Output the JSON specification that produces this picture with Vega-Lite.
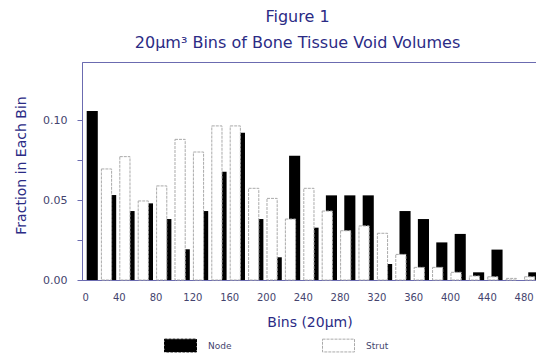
{
  "$schema": "https://vega.github.io/schema/vega-lite/v6.json",
  "autosize": "none",
  "width": 455,
  "height": 218,
  "padding": {"left": 82, "top": 62, "right": 0, "bottom": 74},
  "background": "white",
  "title": {
    "text": ["Figure 1", "20µm³ Bins of Bone Tissue Void Volumes"],
    "font": "DejaVu Sans",
    "fontSize": 16,
    "fontWeight": "normal",
    "color": "#2b2b85",
    "lineHeight": 26,
    "anchor": "middle",
    "dx": -12,
    "offset": 11
  },
  "data": {
    "values": [
      {"bin": 0, "end": 20, "series": "Node", "value": 0.1056},
      {"bin": 20, "end": 40, "series": "Node", "value": 0.0531},
      {"bin": 40, "end": 60, "series": "Node", "value": 0.0431},
      {"bin": 60, "end": 80, "series": "Node", "value": 0.0479},
      {"bin": 80, "end": 100, "series": "Node", "value": 0.0381},
      {"bin": 100, "end": 120, "series": "Node", "value": 0.0192},
      {"bin": 120, "end": 140, "series": "Node", "value": 0.0431},
      {"bin": 140, "end": 160, "series": "Node", "value": 0.0677},
      {"bin": 160, "end": 180, "series": "Node", "value": 0.092},
      {"bin": 180, "end": 200, "series": "Node", "value": 0.0381},
      {"bin": 200, "end": 220, "series": "Node", "value": 0.0142},
      {"bin": 220, "end": 240, "series": "Node", "value": 0.0777},
      {"bin": 240, "end": 260, "series": "Node", "value": 0.0327},
      {"bin": 260, "end": 280, "series": "Node", "value": 0.0529},
      {"bin": 280, "end": 300, "series": "Node", "value": 0.0529},
      {"bin": 300, "end": 320, "series": "Node", "value": 0.0529},
      {"bin": 320, "end": 340, "series": "Node", "value": 0.01},
      {"bin": 340, "end": 360, "series": "Node", "value": 0.0431},
      {"bin": 360, "end": 380, "series": "Node", "value": 0.0381},
      {"bin": 380, "end": 400, "series": "Node", "value": 0.0235},
      {"bin": 400, "end": 420, "series": "Node", "value": 0.0288},
      {"bin": 420, "end": 440, "series": "Node", "value": 0.0048},
      {"bin": 440, "end": 460, "series": "Node", "value": 0.019},
      {"bin": 460, "end": 480, "series": "Node", "value": 0},
      {"bin": 480, "end": 500, "series": "Node", "value": 0.0048},
      {"bin": 20, "end": 40, "series": "Strut", "value": 0.0694},
      {"bin": 40, "end": 60, "series": "Strut", "value": 0.0771},
      {"bin": 60, "end": 80, "series": "Strut", "value": 0.0494},
      {"bin": 80, "end": 100, "series": "Strut", "value": 0.0588},
      {"bin": 100, "end": 120, "series": "Strut", "value": 0.0879},
      {"bin": 120, "end": 140, "series": "Strut", "value": 0.08},
      {"bin": 140, "end": 160, "series": "Strut", "value": 0.0963},
      {"bin": 160, "end": 180, "series": "Strut", "value": 0.0963},
      {"bin": 180, "end": 200, "series": "Strut", "value": 0.0573},
      {"bin": 200, "end": 220, "series": "Strut", "value": 0.051},
      {"bin": 220, "end": 240, "series": "Strut", "value": 0.0381},
      {"bin": 240, "end": 260, "series": "Strut", "value": 0.0573},
      {"bin": 260, "end": 280, "series": "Strut", "value": 0.0431},
      {"bin": 280, "end": 300, "series": "Strut", "value": 0.0308},
      {"bin": 300, "end": 320, "series": "Strut", "value": 0.0338},
      {"bin": 320, "end": 340, "series": "Strut", "value": 0.0292},
      {"bin": 340, "end": 360, "series": "Strut", "value": 0.016},
      {"bin": 360, "end": 380, "series": "Strut", "value": 0.0079},
      {"bin": 380, "end": 400, "series": "Strut", "value": 0.0079},
      {"bin": 400, "end": 420, "series": "Strut", "value": 0.0048},
      {"bin": 420, "end": 440, "series": "Strut", "value": 0.0025},
      {"bin": 440, "end": 460, "series": "Strut", "value": 0.002},
      {"bin": 460, "end": 480, "series": "Strut", "value": 0.001},
      {"bin": 480, "end": 500, "series": "Strut", "value": 0.002}
    ]
  },
  "encoding": {
    "x": {
      "field": "bin",
      "type": "quantitative",
      "scale": {"domain": [0, 494.6], "nice": false, "zero": false},
      "axis": {
        "values": [0, 40, 80, 120, 160, 200, 240, 280, 320, 360, 400, 440, 480],
        "title": "Bins  (20µm)",
        "ticks": false,
        "tickSize": 0,
        "grid": false,
        "labelPadding": 12,
        "labelFontSize": 10,
        "labelFont": "DejaVu Sans",
        "labelColor": "#44446e",
        "domainColor": "#6b6bb0",
        "titleFont": "DejaVu Sans",
        "titleFontSize": 14,
        "titleFontWeight": "normal",
        "titleColor": "#2b2b85",
        "titlePadding": 13
      }
    },
    "x2": {"field": "end"},
    "y": {
      "field": "value",
      "type": "quantitative",
      "scale": {"domain": [0, 0.13625], "nice": false},
      "axis": {
        "values": [0, 0.025, 0.05, 0.075, 0.1],
        "labelExpr": "indexof(['0.00','0.05','0.10'], format(datum.value, '.2f')) >= 0 ? format(datum.value, '.2f') : ''",
        "title": "Fraction in Each Bin",
        "grid": false,
        "tickSize": 5,
        "tickColor": "#6b6bb0",
        "domainColor": "#6b6bb0",
        "labelPadding": 10,
        "labelFontSize": 11,
        "labelFont": "DejaVu Sans",
        "labelColor": "#44446e",
        "titleFont": "DejaVu Sans",
        "titleFontSize": 14,
        "titleFontWeight": "normal",
        "titleColor": "#2b2b85",
        "titleAngle": -90,
        "titleBaseline": "middle",
        "titleAlign": "center",
        "titleX": -61,
        "titleY": 103
      }
    },
    "y2": {"datum": 0},
    "fill": {
      "field": "series",
      "type": "nominal",
      "scale": {"domain": ["Node", "Strut"], "range": ["black", "white"]},
      "legend": {
        "title": null,
        "orient": "none",
        "legendX": 82,
        "legendY": 267,
        "direction": "horizontal",
        "padding": 0,
        "columnPadding": 88,
        "labelOffset": 11,
        "labelFont": "DejaVu Sans",
        "labelFontSize": 9,
        "labelColor": "#44446e",
        "symbolType": "M-1,-0.4H1V0.4H-1Z",
        "symbolSize": 1024,
        "symbolStrokeWidth": 1,
        "symbolDash": [3, 1]
      }
    },
    "stroke": {
      "field": "series",
      "type": "nominal",
      "scale": {"domain": ["Node", "Strut"], "range": ["black", "#aaaaaa"]},
      "legend": {
        "title": null,
        "orient": "none",
        "legendX": 82,
        "legendY": 267,
        "direction": "horizontal",
        "padding": 0,
        "columnPadding": 88,
        "labelOffset": 11,
        "labelFont": "DejaVu Sans",
        "labelFontSize": 9,
        "labelColor": "#44446e",
        "symbolType": "M-1,-0.4H1V0.4H-1Z",
        "symbolSize": 1024,
        "symbolStrokeWidth": 1,
        "symbolDash": [3, 1]
      }
    }
  },
  "layer": [
    {
      "transform": [{"filter": "datum.series === 'Node'"}],
      "mark": {"type": "bar", "xOffset": 4.7, "x2Offset": -2.6, "strokeWidth": 0}
    },
    {
      "transform": [{"filter": "datum.series === 'Strut'"}],
      "mark": {"type": "bar", "xOffset": 1, "x2Offset": -7.2, "strokeWidth": 1, "strokeDash": [3, 1]}
    }
  ],
  "config": {
    "view": {"stroke": "#6b6bb0", "strokeWidth": 1},
    "bar": {"cornerRadius": 0}
  }
}
